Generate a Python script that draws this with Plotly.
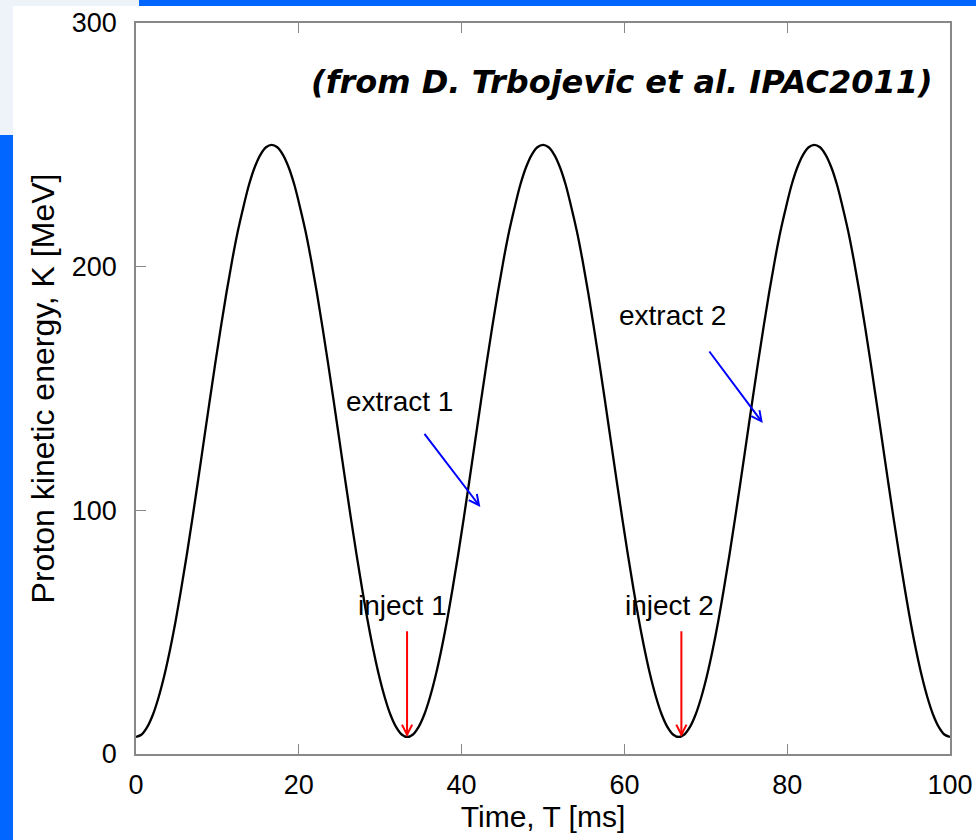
import plotly.graph_objects as go

# Read-off kinetic energy [MeV] over one 33.33 ms cycle (48 samples), repeated for 3 cycles
period_values = [7.0, 8.0, 11.1, 16.2, 23.3, 32.1, 42.6, 54.5, 67.8, 82.0, 97.0, 112.6,
                 128.5, 144.4, 160.0, 175.0, 189.3, 202.5, 214.4, 224.5, 233.7, 240.8, 245.9, 249.0,
                 250.0, 249.0, 245.9, 240.8, 233.7, 224.5, 214.4, 202.5, 189.3, 175.0, 160.0, 144.4,
                 128.5, 112.6, 97.0, 82.0, 67.8, 54.5, 42.6, 32.1, 23.3, 16.2, 11.1, 8.0]
time_ms = [round(i * 100 / 144, 4) for i in range(145)]
energy_mev = period_values * 3 + [7.0]

x_ticks = [0, 20, 40, 60, 80, 100]
y_ticks = [0, 100, 200, 300]

# annotation labels/positions (data units)
labels = ["inject 1", "inject 2", "extract 1", "extract 2"]
label_x = [32.7, 65.5, 32.4, 65.9]
label_y = [61, 61, 144.5, 180]

red_arrows = [(33.3, 51, 33.3, 7), (67.0, 51, 67.0, 7)]
blue_arrows = [(35.3, 132, 42.3, 101.4), (70.3, 165.8, 77.0, 135.8)]

fig = go.Figure()
fig.add_trace(go.Scatter(x=time_ms, y=energy_mev, mode="lines",
                         line=dict(color="black", width=2.3, shape="spline", smoothing=1.0),
                         showlegend=False, hoverinfo="skip"))

for lab, lx, ly in zip(labels, label_x, label_y):
    fig.add_annotation(x=lx, y=ly, text=lab, showarrow=False,
                       font=dict(family="Liberation Sans, Arial", size=28, color="black"))

for (x0, y0, x1, y1) in red_arrows:
    fig.add_annotation(x=x1, y=y1, ax=x0, ay=y0, xref="x", yref="y", axref="x", ayref="y",
                       text="", showarrow=True, arrowhead=5, arrowsize=1,
                       arrowwidth=2, arrowcolor="#ff0000")
for (x0, y0, x1, y1) in blue_arrows:
    fig.add_annotation(x=x1, y=y1, ax=x0, ay=y0, xref="x", yref="y", axref="x", ayref="y",
                       text="", showarrow=True, arrowhead=5, arrowsize=1,
                       arrowwidth=2, arrowcolor="#0000ff")

fig.add_annotation(x=0.9816, y=0.919, xref="paper", yref="paper", xanchor="right",
                   yanchor="middle", showarrow=False,
                   text="<b><i>(from D. Trbojevic et al. IPAC2011)</i></b>",
                   font=dict(family="DejaVu Sans", size=32, color="black"))

# slide decorations (pixel -> paper conversion)
L, R, T, B = 136, 950, 23, 754
def px(x):
    return (x - L) / (R - L)
def py(y):
    return (B - y) / (B - T)

deco = [
    (0, 0, 13, 135, "#eef3fa"),
    (13, 0, 139, 6, "#eef3fa"),
    (139, 0, 976, 6, "#0066ff"),
    (0, 135, 13, 840, "#0066ff"),
]
for x0, y0, x1, y1, c in deco:
    fig.add_shape(type="rect", xref="paper", yref="paper",
                  x0=px(x0), x1=px(x1), y0=py(y1), y1=py(y0),
                  fillcolor=c, line=dict(width=0), layer="below")

tick_font = dict(family="Liberation Sans, Arial", size=27, color="black")
fig.update_xaxes(range=[0, 100], tickvals=x_ticks, ticks="inside", ticklen=10,
                 tickcolor="#888888", showline=True, linecolor="#888888", linewidth=1.5,
                 mirror="ticks", showgrid=False, zeroline=False, tickfont=tick_font,
                 ticklabelstandoff=6, automargin=False,
                 title=dict(text="Time, T [ms]",
                            font=dict(family="Liberation Sans, Arial", size=30, color="black"),
                            standoff=4))
fig.update_yaxes(range=[0, 300], tickvals=y_ticks, ticks="inside", ticklen=10,
                 tickcolor="#888888", showline=True, linecolor="#888888", linewidth=1.5,
                 mirror=True, showgrid=False, zeroline=False, tickfont=tick_font,
                 ticklabelstandoff=12, automargin=False,
                 title=dict(text="Proton kinetic energy, K [MeV]",
                            font=dict(family="Liberation Sans, Arial", size=32, color="black"),
                            standoff=8))

fig.update_layout(width=976, height=840, plot_bgcolor="white", paper_bgcolor="white",
                  margin=dict(l=136, r=26, t=23, b=86, autoexpand=False), showlegend=False)

fig.write_html("out.html", config={"displayModeBar": False},
               post_script="document.body.style.margin='0';document.body.style.overflow='hidden';")
